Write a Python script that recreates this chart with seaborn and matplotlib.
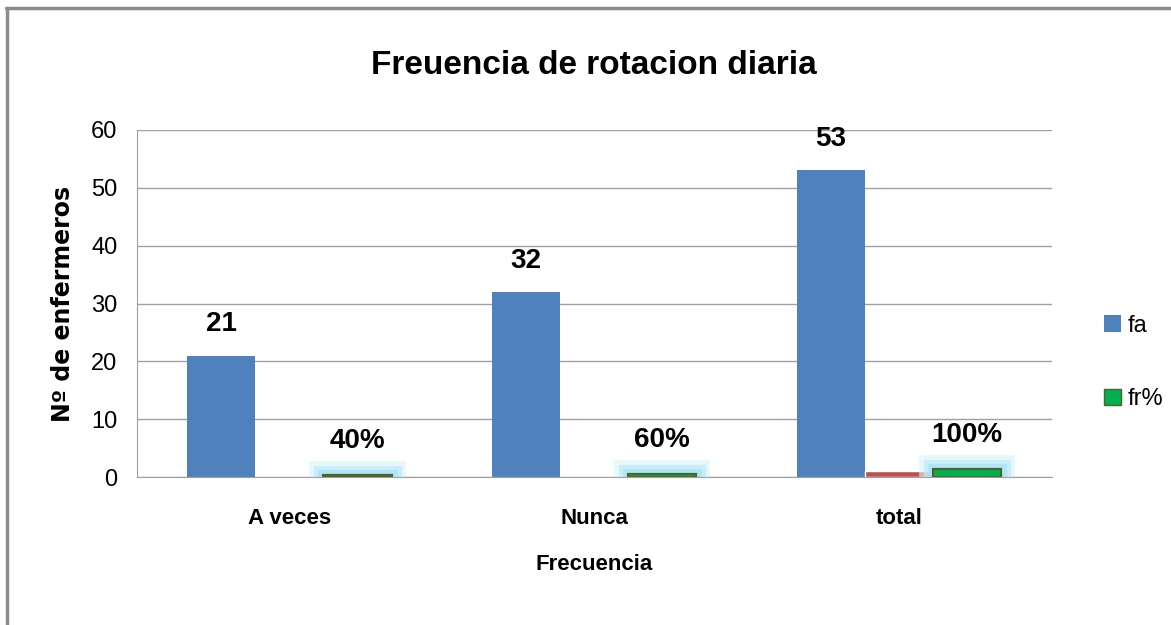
import pandas as pd
import numpy as np
import matplotlib.pyplot as plt
import matplotlib.patheffects as pe
from matplotlib.lines import Line2D
from matplotlib.patches import Patch
import seaborn as sns

# data
categorias = ['A veces', 'Nunca', 'total']
fa = [21, 32, 53]
fr = [0.0, 0.0, 1.0]          # red series, not shown in legend
fr_pct = [0.4, 0.6, 1.4]
etiquetas_fa = ['21', '32', '53']
etiquetas_pct = ['40%', '60%', '100%']

series = ['fa', 'fr', 'fr%']
colores = {'fa': '#4f81bd', 'fr': '#c0504d', 'fr%': '#00b050'}

df = pd.DataFrame({
    'Frecuencia': categorias * 3,
    'serie': ['fa'] * 3 + ['fr'] * 3 + ['fr%'] * 3,
    'valor': fa + fr + fr_pct,
})

sns.set_style('white')
plt.rcParams['font.family'] = ['Liberation Sans Narrow', 'Liberation Sans', 'DejaVu Sans']
plt.rcParams['text.color'] = 'black'
plt.rcParams['xtick.color'] = 'black'
plt.rcParams['ytick.color'] = 'black'
plt.rcParams['axes.labelcolor'] = 'black'

fig = plt.figure(figsize=(11.71, 6.25), dpi=100)
ax = fig.add_axes([0.117, 0.2368, 0.781, 0.5552])

sns.barplot(data=df, x='Frecuencia', y='valor', hue='serie', hue_order=series,
            palette=colores, width=0.67, gap=0, saturation=1, ax=ax, legend=False)

# green bars: dark edge + soft light blue glow
glow = [pe.withStroke(linewidth=20, foreground='#d8f4fc', alpha=0.6),
        pe.withStroke(linewidth=14, foreground='#bdebfa', alpha=0.7),
        pe.withStroke(linewidth=8, foreground='#a6e4f7', alpha=0.8),
        pe.Normal()]
for bar in ax.containers[2]:
    bar.set_edgecolor('#4f6228')
    bar.set_linewidth(1.5)
    bar.set_path_effects(glow)
for bar in ax.containers[0]:
    bar.set_edgecolor('none')

ax.bar_label(ax.containers[0], labels=etiquetas_fa, padding=13,
             fontsize=20, fontweight='bold')
ax.bar_label(ax.containers[2], labels=etiquetas_pct, padding=15,
             fontsize=20, fontweight='bold')

ax.set_ylim(0, 60)
ax.set_yticks(range(0, 61, 10))
ax.yaxis.grid(True, color='#a0a0a0', linewidth=1)
ax.set_axisbelow(True)
for s in ['top', 'right']:
    ax.spines[s].set_visible(False)
ax.spines['left'].set_color('#a0a0a0')
ax.spines['bottom'].set_color('#a0a0a0')
ax.tick_params(axis='y', labelsize=17, length=0, pad=14)
ax.tick_params(axis='x', labelsize=16, length=0, pad=22)
for t in ax.get_xticklabels():
    t.set_fontweight('bold')

ax.set_xlabel('Frecuencia', fontsize=16, fontweight='bold', labelpad=18)
ax.set_ylabel('Nº de enfermeros', fontsize=17, fontweight='bold', labelpad=12,
              family=['DejaVu Sans'])
ax.set_title('Freuencia de rotacion diaria', fontsize=24, fontweight='bold', pad=40)

handles = [Patch(facecolor=colores['fa'], edgecolor='none'),
           Patch(facecolor=colores['fr%'], edgecolor='#4f6228')]
fig.legend(handles, ['fa', 'fr%'], loc='center left', bbox_to_anchor=(0.925, 0.42),
           frameon=False, fontsize=17, handlelength=0.7, handleheight=0.7,
           handletextpad=0.3, labelspacing=2.2)

# chart frame (top and left edge)
fig.add_artist(Line2D([0.005, 1.0], [0.987, 0.987], transform=fig.transFigure,
                      color='#8c8c8c', linewidth=2.5))
fig.add_artist(Line2D([0.006, 0.006], [0.0, 0.987], transform=fig.transFigure,
                      color='#8c8c8c', linewidth=2.5))

fig.savefig('out.png', dpi=100)
